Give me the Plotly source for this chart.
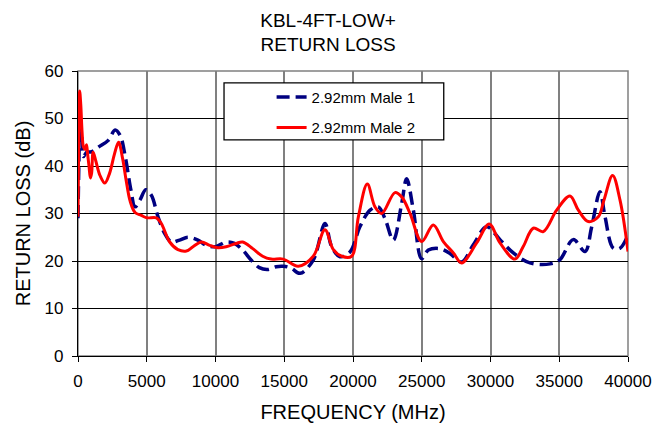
import plotly.graph_objects as go

# Frequency (MHz) and return loss (dB)
freq_male1 = [0, 60, 150, 250, 400, 630, 1000, 1500, 2200, 2700, 3070, 3440, 3850,
              4150, 4500, 4930, 5340, 5820, 6300, 6790, 7390, 7990, 8720, 9320,
              10000, 10770, 11380, 11980, 12590, 13190, 13800, 14410, 14930, 15500,
              16150, 17110, 17960, 18450, 19050, 19780, 20500, 21240, 21840, 22330,
              22930, 23540, 23900, 24390, 24990, 25480, 26330, 27050, 27900, 28750,
              29720, 30690, 31660, 32870, 34330, 35050, 36020, 36870, 37360, 37960,
              38330, 38930, 39420, 40000]
rl_male1 = [29, 40, 49.5, 47, 42, 42.9, 43, 44, 45.4, 47.6, 46.4, 41.9, 34.9,
            31.4, 32.8, 35.0, 33.8, 29.3, 25.8, 24.0, 24.4, 25.0, 24.4, 23.3,
            23.0, 24.0, 23.7, 22.3, 20.2, 18.6, 18.2, 18.8, 18.9, 18.5,
            17.4, 20.2, 27.9, 23.0, 20.9, 21.9, 27.2, 30.7, 31.4, 28.9,
            24.4, 32.1, 37.3, 30.7, 20.5, 22.3, 22.6, 21.6, 19.8, 23.4,
            27.2, 24.5, 21.7, 19.6, 19.4, 20.3, 24.5, 22.0, 27.2, 34.6,
            29.3, 22.7, 22.7, 25.5]

freq_male2 = [0, 50, 120, 200, 300, 400, 520, 620, 700, 800, 900, 990, 1100, 1300,
              1600, 1950, 2300, 2650, 2950, 3250, 3500, 3800, 4150, 4600, 5000, 5700,
              6060, 6670, 7270, 7880, 8360, 8970, 9580, 10180, 10770, 11500, 11980,
              12710, 13430, 14040, 14930, 16020, 17110, 17960, 18570, 19180, 19900,
              20390, 21040, 21600, 22090, 23050, 23540, 24150, 24990, 25840, 26570,
              27300, 27900, 28990, 29910, 30690, 31780, 32390, 33110, 33840, 34810,
              35780, 36390, 37110, 37840, 38250, 38880, 39420, 40000]
rl_male2 = [29.3, 45, 55.8, 53, 47, 44, 43.5, 44.5, 42.5, 40, 37.5, 38.5, 42.9, 41,
            38, 36.4, 38.5, 42.5, 45.0, 41.5, 37, 32.5, 30.2, 29.6, 29.1, 29.1,
            27.9, 24.0, 22.4, 22.1, 23.0, 24.0, 23.3, 22.8, 23.0, 23.7, 24.0,
            22.6, 21.0, 20.4, 20.4, 18.9, 21.0, 26.6, 22.4, 21.0, 21.0,
            29.3, 36.2, 31.4, 30.0, 34.4, 33.5, 30.0, 24.1, 27.6, 24.1,
            21.7, 19.6, 23.8, 27.8, 23.8, 20.4, 23.1, 26.9, 26.2, 30.7,
            33.7, 30.7, 28.3, 29.3, 32.8, 38.0, 32.8, 22.0]

x_ticks = [0, 5000, 10000, 15000, 20000, 25000, 30000, 35000, 40000]
y_ticks = [0, 10, 20, 30, 40, 50, 60]

FONT = "Liberation Sans, Arial, sans-serif"

fig = go.Figure()
fig.add_trace(go.Scatter(x=freq_male1, y=rl_male1, mode="lines", name="2.92mm Male 1",
                         line=dict(color="#000080", width=3.5, dash="13px,6px", shape="spline", smoothing=1.0),
                         legendgroup="a"))
fig.add_trace(go.Scatter(x=freq_male2, y=rl_male2, mode="lines", name="2.92mm Male 2",
                         line=dict(color="#FF0000", width=3, shape="spline", smoothing=1.0),
                         legendgroup="b"))

# plot frame (grey top/right) and legend box
fig.add_shape(type="rect", xref="paper", yref="paper", x0=0, x1=1, y0=0, y1=1,
              line=dict(color="#808080", width=1.5), layer="below")
fig.add_shape(type="rect", xref="paper", yref="paper", x0=0.2655, x1=0.665, y0=0.758, y1=0.958,
              line=dict(color="black", width=1.3), fillcolor="white", layer="above")

fig.update_layout(
    width=660, height=423,
    margin=dict(l=70, r=40, t=63, b=75, autoexpand=False),
    paper_bgcolor="white", plot_bgcolor="white",
    font=dict(family=FONT, color="black", size=17),
    title=dict(text="KBL-4FT-LOW+<br>RETURN LOSS", x=0.485, xref="container", xanchor="center",
               y=0.956, yref="container", yanchor="middle", font=dict(size=19)),
    showlegend=True,
    legend=dict(x=0.352, y=0.966, xanchor="left", yanchor="top", bgcolor="rgba(0,0,0,0)",
                borderwidth=0, font=dict(size=15), tracegroupgap=8, traceorder="grouped"),
    xaxis=dict(range=[0, 40000], tickvals=x_ticks, ticktext=[str(v) for v in x_ticks],
               showgrid=True, gridcolor="#808080", gridwidth=1.5,
               showline=True, linecolor="black", linewidth=1.3, zeroline=False,
               ticks="outside", ticklen=5, tickcolor="black", automargin=False,
               ticklabelstandoff=4,
               title=dict(text="FREQUENCY (MHz)", standoff=15), tickfont=dict(size=17)),
    yaxis=dict(range=[0, 60], tickvals=y_ticks, showgrid=True, gridcolor="black", gridwidth=1.3,
               showline=True, linecolor="black", linewidth=1.3, zeroline=False,
               ticks="outside", ticklen=5, tickcolor="black", automargin=False,
               ticklabelstandoff=5,
               title=dict(text="RETURN LOSS (dB)", standoff=8), tickfont=dict(size=17)),
)

fig.write_html("out.html")
